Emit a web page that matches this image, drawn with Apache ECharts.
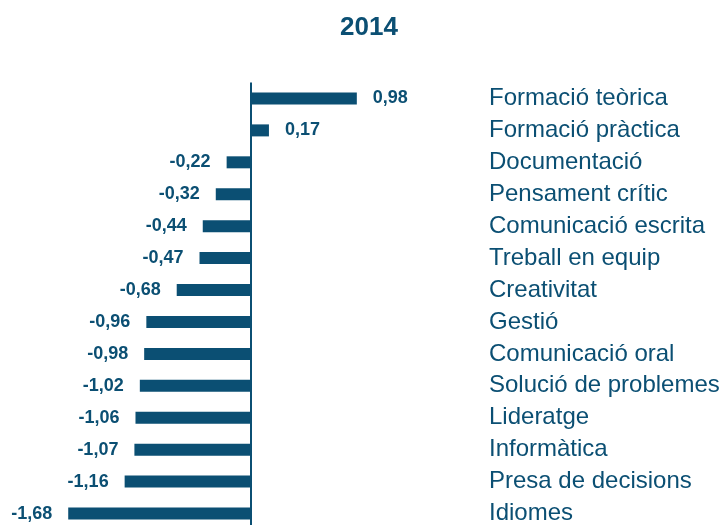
<!DOCTYPE html>
<html style="height: 100%;">
<head>
<meta charset="utf-8">
<title>2014</title>
<script type="text/javascript" src="https://cdn.jsdelivr.net/npm/echarts@6/dist/echarts.min.js"></script>
</head>
<body style="height: 100%; margin: 0; background: #fff;">
<div id="container" style="width: 721px; height: 525px;"></div>
<script type="text/javascript">
// dades
var titol = '2014';
var categories = ['Formació teòrica', 'Formació pràctica', 'Documentació', 'Pensament crític',
  'Comunicació escrita', 'Treball en equip', 'Creativitat', 'Gestió', 'Comunicació oral',
  'Solució de problemes', 'Lideratge', 'Informàtica', 'Presa de decisions', 'Idiomes'];
var valors = [0.98, 0.17, -0.22, -0.32, -0.44, -0.47, -0.68, -0.96, -0.98, -1.02, -1.06, -1.07, -1.16, -1.68];

var blau = '#0b4f73';
var font = '"Liberation Sans", Arial, sans-serif';

var dom = document.getElementById('container');
var myChart = echarts.init(dom);

var dades = [];
for (var i = 0; i < valors.length; i++) {
  dades.push({
    value: valors[i],
    label: { position: valors[i] < 0 ? 'left' : 'right' }
  });
}

var option = {
  animation: false,
  title: {
    text: titol,
    left: 369,
    top: 15,
    padding: 0,
    textAlign: 'center',
    textStyle: { color: blau, fontSize: 26, fontWeight: 'bold', fontFamily: font }
  },
  // alçada fixa: 14 files de ~32 px, la darrera surt una mica del marc
  grid: { left: 33.5, right: 253.5, top: 82.5, height: 447, outerBoundsMode: 'none' },
  xAxis: {
    type: 'value',
    min: -2,
    max: 2,
    show: false
  },
  yAxis: {
    type: 'category',
    data: categories,
    inverse: true,
    position: 'right',
    axisLine: { show: false, onZero: false },
    axisTick: { show: false },
    splitLine: { show: false },
    axisLabel: {
      margin: 21.5,
      color: blau,
      fontSize: 24,
      fontFamily: font
    }
  },
  series: [{
    type: 'bar',
    data: dades,
    barWidth: 12,
    itemStyle: { color: blau },
    label: {
      show: true,
      distance: 16,
      color: blau,
      fontSize: 18,
      fontWeight: 'bold',
      fontFamily: font,
      formatter: function (p) { return p.value.toFixed(2).replace('.', ','); }
    },
    markLine: {
      silent: true,
      symbol: 'none',
      label: { show: false },
      lineStyle: { color: blau, width: 2, type: 'solid' },
      data: [{ xAxis: 0 }]
    }
  }]
};
myChart.setOption(option);
</script>
</body>
</html>
